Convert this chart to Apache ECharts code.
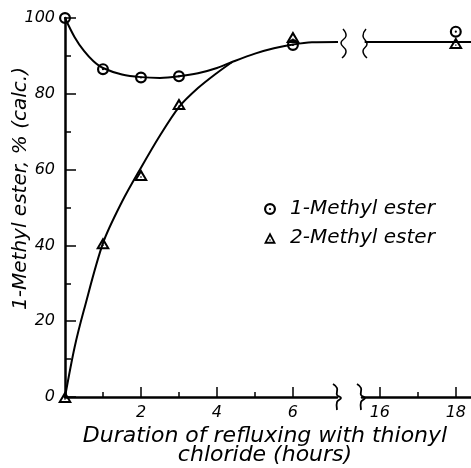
<!DOCTYPE html>
<html>
<head>
<meta charset="utf-8">
<script src="https://cdn.jsdelivr.net/npm/echarts@6/dist/echarts.min.js"></script>
<style>
  html, body { margin: 0; padding: 0; background: #fff; }
  #chart { width: 471px; height: 468px; }
</style>
</head>
<body>
<div id="chart"></div>
<script>
// measured points
var hours = [0, 1, 2, 3, 6];
var hoursLate = [18];
var methyl1 = [100, 86.5, 84.3, 84.6, 92.9];
var methyl1Late = [96.4];
var methyl2 = [0, 40.6, 58.6, 77.3, 95];
var methyl2Late = [93.4];

// hand drawn curves
var fit1X = [0, 0.25, 0.5, 0.75, 1, 1.5, 2, 2.5, 3, 3.5, 4, 4.4, 5, 5.5, 6, 6.5, 7.3];
var fit1Y = [100, 95, 91.3, 88.6, 86.8, 85.1, 84.4, 84.2, 84.6, 85.4, 86.8, 88.4, 90.6, 92, 93, 93.6, 93.7];
var fit2X = [0, 0.25, 0.5, 1, 1.5, 2, 2.5, 3, 3.5, 4, 4.4];
var fit2Y = [0, 13, 23, 40.6, 51.5, 60.5, 69, 76.5, 81.5, 85.5, 88.4];
var fitLateX = [15.6, 18.4];
var fitLateY = [93.7, 93.7];

var xTicks = [2, 4, 6];
var xMinor = [1, 3, 5];
var xTicksLate = [16, 18];
var xMinorLate = [17];

var font = 'DejaVu Sans';
var circleDot = 'path://M1,12A11,11 0 1,1 23,12A11,11 0 1,1 1,12Z M5,12A7,7 0 1,0 19,12A7,7 0 1,0 5,12Z M10,12A2,2 0 1,1 14,12A2,2 0 1,1 10,12Z';
var triDot = 'path://M12,1L23,22L1,22Z M12,8.5L6.3,18.6L17.7,18.6Z M11,14L13,14L13,16.4L11,16.4Z';

function pairs(xs, ys) {
    return xs.map(function (x, i) { return [x, ys[i]]; });
}

var myChart = echarts.init(document.getElementById('chart'));
var lbl = { color: '#000', fontFamily: font, fontStyle: 'italic', fontSize: 16 };

const option = {
    animation: false,
    title: {
        text: 'Duration of refluxing with thionyl\nchloride (hours)',
        left: 265, top: 427, textAlign: 'center', padding: 0,
        textStyle: { color: '#000', fontFamily: font, fontStyle: 'italic', fontWeight: 'normal', fontSize: 22, lineHeight: 19 }
    },
    legend: {
        orient: 'vertical', left: 264, top: 199, padding: 0,
        itemWidth: 12, itemHeight: 12, itemGap: 9,
        data: ['1-Methyl ester', '2-Methyl ester'],
        textStyle: { color: '#000', fontFamily: font, fontStyle: 'italic', fontSize: 20, lineHeight: 20, padding: [0, 0, 0, 9] }
    },
    grid: [
        { left: 65, right: 134, top: 18, bottom: 71, outerBoundsMode: 'none' },
        { left: 362, right: 0, top: 18, bottom: 71, outerBoundsMode: 'none' }
    ],
    xAxis: [
        {
            type: 'value', gridIndex: 0, min: 0, max: 7.16, interval: 2, position: 'bottom',
            axisLine: { lineStyle: { color: '#000', width: 2.5 } },
            axisTick: { inside: true, length: 10, customValues: xTicks, lineStyle: { color: '#000', width: 1.5 } },
            axisLabel: Object.assign({ customValues: xTicks, margin: 8 }, lbl),
            splitLine: { show: false }
        },
        {
            type: 'value', gridIndex: 0, min: 0, max: 7.16, interval: 1, position: 'bottom',
            axisLine: { show: false },
            axisTick: { inside: true, length: 5, customValues: xMinor, lineStyle: { color: '#000', width: 1.5 } },
            axisLabel: { show: false },
            splitLine: { show: false }
        },
        {
            type: 'value', gridIndex: 1, min: 15.53, max: 18.4, interval: 1, position: 'bottom',
            axisLine: { lineStyle: { color: '#000', width: 2.5 } },
            axisTick: { inside: true, length: 10, customValues: xTicksLate, lineStyle: { color: '#000', width: 1.5 } },
            axisLabel: Object.assign({ customValues: xTicksLate, margin: 8 }, lbl),
            splitLine: { show: false }
        },
        {
            type: 'value', gridIndex: 1, min: 15.53, max: 18.4, interval: 1, position: 'bottom',
            axisLine: { show: false },
            axisTick: { inside: true, length: 5, customValues: xMinorLate, lineStyle: { color: '#000', width: 1.5 } },
            axisLabel: { show: false },
            splitLine: { show: false }
        }
    ],
    yAxis: [
        {
            type: 'value', gridIndex: 0, min: 0, max: 100, interval: 20,
            name: '1-Methyl ester, % (calc.)', nameLocation: 'middle', nameGap: 34, nameRotate: 90,
            nameMoveOverlap: false,
            nameTextStyle: { color: '#000', fontFamily: font, fontStyle: 'italic', fontSize: 20, padding: [0, 0, 0, 38] },
            axisLine: { lineStyle: { color: '#000', width: 2.5 } },
            axisTick: { inside: true, length: 11, lineStyle: { color: '#000', width: 1.5 } },
            minorTick: { show: true, splitNumber: 2, length: 6, lineStyle: { color: '#000', width: 1.5 } },
            axisLabel: Object.assign({ margin: 10 }, lbl),
            splitLine: { show: false }
        },
        {
            type: 'value', gridIndex: 1, min: 0, max: 100, show: false, splitLine: { show: false }
        }
    ],
    series: [
        {
            type: 'line', xAxisIndex: 0, yAxisIndex: 0, data: pairs(fit1X, fit1Y),
            smooth: 0.3, showSymbol: false, clip: false, silent: true,
            lineStyle: { color: '#000', width: 2 }
        },
        {
            type: 'line', xAxisIndex: 0, yAxisIndex: 0, data: pairs(fit2X, fit2Y),
            smooth: 0.3, showSymbol: false, clip: false, silent: true,
            lineStyle: { color: '#000', width: 2 }
        },
        {
            type: 'line', xAxisIndex: 2, yAxisIndex: 1, data: pairs(fitLateX, fitLateY),
            showSymbol: false, clip: false, silent: true,
            lineStyle: { color: '#000', width: 2 }
        },
        {
            name: '1-Methyl ester', type: 'scatter', xAxisIndex: 0, yAxisIndex: 0,
            data: pairs(hours, methyl1), symbol: circleDot, symbolSize: 12, clip: false,
            itemStyle: { color: '#000', opacity: 1 }, z: 5
        },
        {
            name: '1-Methyl ester', type: 'scatter', xAxisIndex: 2, yAxisIndex: 1,
            data: pairs(hoursLate, methyl1Late), symbol: circleDot, symbolSize: 12, clip: false,
            itemStyle: { color: '#000', opacity: 1 }, z: 5
        },
        {
            name: '2-Methyl ester', type: 'scatter', xAxisIndex: 0, yAxisIndex: 0,
            data: pairs(hours, methyl2), symbol: triDot, symbolSize: [14, 12], clip: false,
            itemStyle: { color: '#000', opacity: 1 }, z: 5
        },
        {
            name: '2-Methyl ester', type: 'scatter', xAxisIndex: 2, yAxisIndex: 1,
            data: pairs(hoursLate, methyl2Late), symbol: triDot, symbolSize: [14, 12], clip: false,
            itemStyle: { color: '#000', opacity: 1 }, z: 5
        }
    ],
    // break marks on the curve and on the axis
    graphic: [
        { type: 'polyline', shape: { points: [[343, 29], [346, 36], [341, 43], [346, 51], [342, 58]], smooth: 0.5 }, style: { stroke: '#000', lineWidth: 1.5, fill: null } },
        { type: 'polyline', shape: { points: [[366, 29], [363, 36], [367, 44], [363, 51], [367, 58]], smooth: 0.5 }, style: { stroke: '#000', lineWidth: 1.5, fill: null } },
        { type: 'polyline', shape: { points: [[333, 384], [337, 388], [337, 395], [341, 398], [337, 402], [337, 410]], smooth: 0.4 }, style: { stroke: '#000', lineWidth: 1.8, fill: null } },
        { type: 'polyline', shape: { points: [[357, 384], [361, 388], [361, 395], [365, 398], [361, 402], [361, 410]], smooth: 0.4 }, style: { stroke: '#000', lineWidth: 1.8, fill: null } }
    ]
};

myChart.setOption(option);
</script>
</body>
</html>
